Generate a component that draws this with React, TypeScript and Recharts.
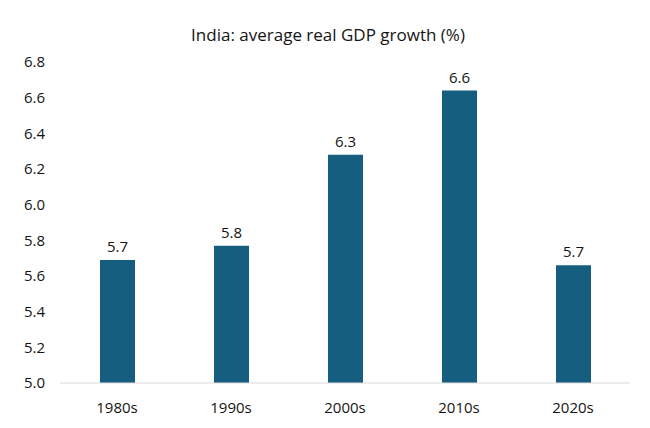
import { BarChart, Bar, XAxis, YAxis, LabelList } from 'recharts';

const decades = ['1980s', '1990s', '2000s', '2010s', '2020s'];
const growth = [5.69, 5.77, 6.28, 6.64, 5.66];
const yTicks = [5.0, 5.2, 5.4, 5.6, 5.8, 6.0, 6.2, 6.4, 6.6, 6.8];

const data = decades.map((decade, i) => ({ decade, growth: growth[i] }));

const FONT = '"Open Sans", "Noto Sans", sans-serif';
const BAR_COLOR = '#165e80';
const TEXT = '#141414';

export default function App() {
  return (
    <div style={{ position: 'fixed', left: 0, top: 0, width: 650, height: 428, background: '#fff', fontFamily: FONT }}>
      <div
        style={{
          position: 'absolute',
          top: 23,
          left: 0,
          width: 656,
          textAlign: 'center',
          fontSize: 17,
          color: TEXT,
          lineHeight: '24px',
        }}
      >
        India: average real GDP growth (%)
      </div>
      <BarChart
        width={650}
        height={428}
        data={data}
        margin={{ top: 62, right: 20, bottom: 15, left: 0 }}
      >
        <XAxis
          dataKey="decade"
          height={30}
          tickLine={false}
          axisLine={{ stroke: '#d9d9d9' }}
          tickMargin={13}
          tick={{ fill: TEXT, fontSize: 15, fontFamily: FONT }}
        />
        <YAxis
          width={60}
          domain={[5.0, 6.8]}
          ticks={yTicks}
          tickFormatter={(v: number) => v.toFixed(1)}
          axisLine={false}
          tickLine={false}
          tickMargin={9}
          interval={0}
          tick={{ fill: TEXT, fontSize: 15, fontFamily: FONT }}
        />
        <Bar dataKey="growth" fill={BAR_COLOR} barSize={35} isAnimationActive={false}>
          <LabelList
            dataKey="growth"
            position="top"
            offset={8}
            formatter={(v: number) => v.toFixed(1)}
            style={{ fill: TEXT, fontSize: 15, fontFamily: FONT }}
          />
        </Bar>
      </BarChart>
    </div>
  );
}
